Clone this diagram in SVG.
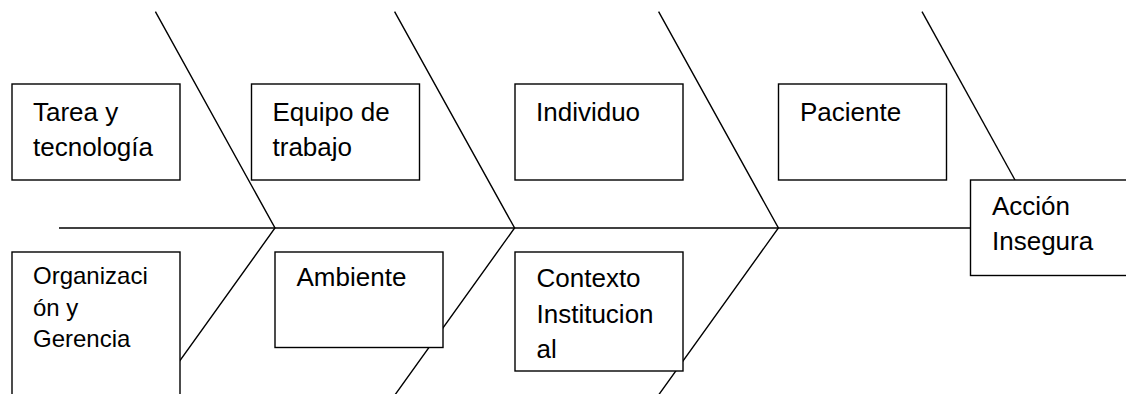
<svg xmlns="http://www.w3.org/2000/svg" width="1126" height="394" viewBox="0 0 1126 394">
<style>
.bone{fill:none;stroke:#000;stroke-width:1.4}
.box{fill:#fff;stroke:#000;stroke-width:1.4}
.t{font-family:"Liberation Sans",Arial,sans-serif;font-size:26px;fill:#000}
.s{font-size:24px}
</style>
<rect width="1126" height="394" fill="#fff"/>
<g id="connectors">
<path class="bone" d="M59 228 H970.5"/>
<path class="bone" d="M155.4 11.7 L275 228 L151.7 400"/>
<path class="bone" d="M394.6 11.7 L514.6 228 L391.3 400"/>
<path class="bone" d="M658.6 11.7 L778.4 228 L655 400"/>
<path class="bone" d="M922 11.7 L1015 180"/>
</g>
<g id="tarea">
<rect class="box" x="12" y="84" width="168" height="96"/>
<text class="t" x="33" y="121">Tarea y</text>
<text class="t" x="33" y="156">tecnología</text>
</g>
<g id="equipo">
<rect class="box" x="251.5" y="84" width="168" height="96"/>
<text class="t" x="272.5" y="121">Equipo de</text>
<text class="t" x="272.5" y="156">trabajo</text>
</g>
<g id="individuo">
<rect class="box" x="515" y="84" width="168" height="96"/>
<text class="t" x="536" y="121">Individuo</text>
</g>
<g id="paciente">
<rect class="box" x="778.5" y="84" width="168" height="96"/>
<text class="t" x="800" y="121">Paciente</text>
</g>
<g id="accion">
<rect class="box" x="970.5" y="180" width="170" height="95.5"/>
<text class="t" x="992" y="215">Acción</text>
<text class="t" x="992" y="250">Insegura</text>
</g>
<g id="organizacion">
<rect class="box" x="12" y="252" width="168" height="170"/>
<text class="t s" x="33" y="284">Organizaci</text>
<text class="t s" x="33" y="316">ón y</text>
<text class="t s" x="33" y="347">Gerencia</text>
</g>
<g id="ambiente">
<rect class="box" x="275" y="252" width="168" height="95.5"/>
<text class="t" x="296.5" y="286">Ambiente</text>
</g>
<g id="contexto">
<rect class="box" x="515" y="252" width="168" height="119"/>
<text class="t" x="536.5" y="286.7">Contexto</text>
<text class="t" x="536.5" y="322.7">Institucion</text>
<text class="t" x="536.5" y="358.3">al</text>
</g>
</svg>
